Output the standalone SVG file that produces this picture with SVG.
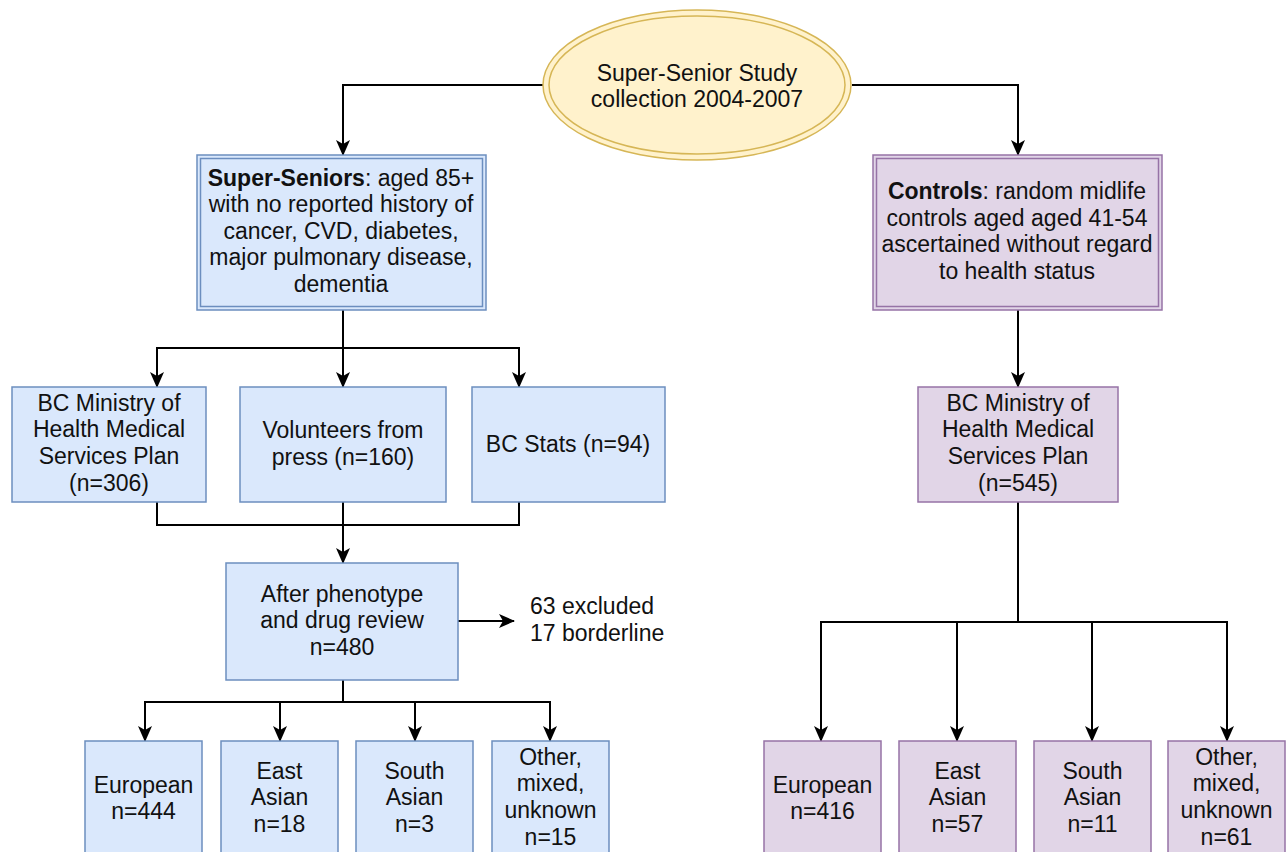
<svg xmlns="http://www.w3.org/2000/svg" width="1287" height="852" viewBox="0 0 1287 852">
<defs>
<style>
text{font-family:"Liberation Sans",Arial,sans-serif;font-size:23px;fill:#111;text-anchor:middle}
.b{font-weight:bold}
.bl{fill:#dae8fc;stroke:#6c8ebf;stroke-width:1.5}
.pu{fill:#e1d5e7;stroke:#9673a6;stroke-width:1.5}
.in{fill:none}
.c{fill:none;stroke:#000;stroke-width:2}
</style>
<marker id="ar" viewBox="0 0 16 16" refX="15" refY="8" markerWidth="16" markerHeight="16" markerUnits="userSpaceOnUse" orient="auto">
<path d="M0,1 L16,8 L0,15 L4,8 z" fill="#000"/>
</marker>
</defs>
<g id="connectors">
<path class="c" d="M543,85 H343 V155" marker-end="url(#ar)"/>
<path class="c" d="M852,85 H1018 V155" marker-end="url(#ar)"/>
<path class="c" d="M343,310 V348 H157 V387" marker-end="url(#ar)"/>
<path class="c" d="M343,348 V387" marker-end="url(#ar)"/>
<path class="c" d="M343,348 H519 V387" marker-end="url(#ar)"/>
<path class="c" d="M157,502 V525 H519 V502"/>
<path class="c" d="M343,502 V563" marker-end="url(#ar)"/>
<path class="c" d="M458,621 H514" marker-end="url(#ar)"/>
<path class="c" d="M343,680 V702 H145 V741" marker-end="url(#ar)"/>
<path class="c" d="M343,702 H280 V741" marker-end="url(#ar)"/>
<path class="c" d="M343,702 H415 V741" marker-end="url(#ar)"/>
<path class="c" d="M343,702 H550 V741" marker-end="url(#ar)"/>
<path class="c" d="M1018,310 V387" marker-end="url(#ar)"/>
<path class="c" d="M1018,502 V622 H821 V741" marker-end="url(#ar)"/>
<path class="c" d="M1018,622 H957 V741" marker-end="url(#ar)"/>
<path class="c" d="M1018,622 H1092 V741" marker-end="url(#ar)"/>
<path class="c" d="M1018,622 H1227 V741" marker-end="url(#ar)"/>
</g>
<g id="start">
<ellipse cx="697" cy="85" rx="154" ry="75" fill="#fff2cc" stroke="#d6b656" stroke-width="1.5"/>
<ellipse cx="697" cy="85" rx="148" ry="69" fill="none" stroke="#d6b656" stroke-width="1.5"/>
<text x="697" y="81">Super-Senior Study</text>
<text x="697" y="107">collection 2004-2007</text>
</g>
<g id="superseniors">
<rect class="bl" x="197" y="155" width="289" height="155"/>
<rect class="bl in" x="200.5" y="158.5" width="282" height="148"/>
<text x="341" y="186"><tspan class="b">Super-Seniors</tspan>: aged 85+</text>
<text x="341" y="212">with no reported history of</text>
<text x="341" y="239">cancer, CVD, diabetes,</text>
<text x="341" y="265">major pulmonary disease,</text>
<text x="341" y="292">dementia</text>
</g>
<g id="controls">
<rect class="pu" x="873" y="155" width="289" height="155"/>
<rect class="pu in" x="876.5" y="158.5" width="282" height="148"/>
<text x="1017" y="199"><tspan class="b">Controls</tspan>: random midlife</text>
<text x="1017" y="226">controls aged aged 41-54</text>
<text x="1017" y="252">ascertained without regard</text>
<text x="1017" y="279">to health status</text>
</g>
<g id="bcmsp-ss">
<rect class="bl" x="12" y="387" width="194" height="115"/>
<text x="109" y="411">BC Ministry of</text>
<text x="109" y="437">Health Medical</text>
<text x="109" y="464">Services Plan</text>
<text x="109" y="491">(n=306)</text>
</g>
<g id="volunteers">
<rect class="bl" x="240" y="387" width="206" height="115"/>
<text x="343" y="438">Volunteers from</text>
<text x="343" y="465">press (n=160)</text>
</g>
<g id="bcstats">
<rect class="bl" x="472" y="387" width="193" height="115"/>
<text x="568" y="452">BC Stats (n=94)</text>
</g>
<g id="phenotype">
<rect class="bl" x="226" y="563" width="232" height="117"/>
<text x="342" y="602">After phenotype</text>
<text x="342" y="628">and drug review</text>
<text x="342" y="655">n=480</text>
</g>
<g id="excluded">
<text x="530" y="614" style="text-anchor:start">63 excluded</text>
<text x="530" y="641" style="text-anchor:start">17 borderline</text>
</g>
<g id="ss-european">
<rect class="bl" x="85" y="741" width="117" height="116"/>
<text x="143.5" y="793">European</text>
<text x="143.5" y="819">n=444</text>
</g>
<g id="ss-eastasian">
<rect class="bl" x="221" y="741" width="117" height="116"/>
<text x="279.5" y="779">East</text>
<text x="279.5" y="805">Asian</text>
<text x="279.5" y="832">n=18</text>
</g>
<g id="ss-southasian">
<rect class="bl" x="356" y="741" width="117" height="116"/>
<text x="414.5" y="779">South</text>
<text x="414.5" y="805">Asian</text>
<text x="414.5" y="832">n=3</text>
</g>
<g id="ss-other">
<rect class="bl" x="492" y="741" width="117" height="116"/>
<text x="550.5" y="765">Other,</text>
<text x="550.5" y="791">mixed,</text>
<text x="550.5" y="818">unknown</text>
<text x="550.5" y="845">n=15</text>
</g>
<g id="bcmsp-ctrl">
<rect class="pu" x="918" y="387" width="200" height="115"/>
<text x="1018" y="411">BC Ministry of</text>
<text x="1018" y="437">Health Medical</text>
<text x="1018" y="464">Services Plan</text>
<text x="1018" y="491">(n=545)</text>
</g>
<g id="c-european">
<rect class="pu" x="764" y="741" width="117" height="116"/>
<text x="822.5" y="793">European</text>
<text x="822.5" y="819">n=416</text>
</g>
<g id="c-eastasian">
<rect class="pu" x="899" y="741" width="117" height="116"/>
<text x="957.5" y="779">East</text>
<text x="957.5" y="805">Asian</text>
<text x="957.5" y="832">n=57</text>
</g>
<g id="c-southasian">
<rect class="pu" x="1034" y="741" width="117" height="116"/>
<text x="1092.5" y="779">South</text>
<text x="1092.5" y="805">Asian</text>
<text x="1092.5" y="832">n=11</text>
</g>
<g id="c-other">
<rect class="pu" x="1168" y="741" width="117" height="116"/>
<text x="1226.5" y="765">Other,</text>
<text x="1226.5" y="791">mixed,</text>
<text x="1226.5" y="818">unknown</text>
<text x="1226.5" y="845">n=61</text>
</g>
</svg>
